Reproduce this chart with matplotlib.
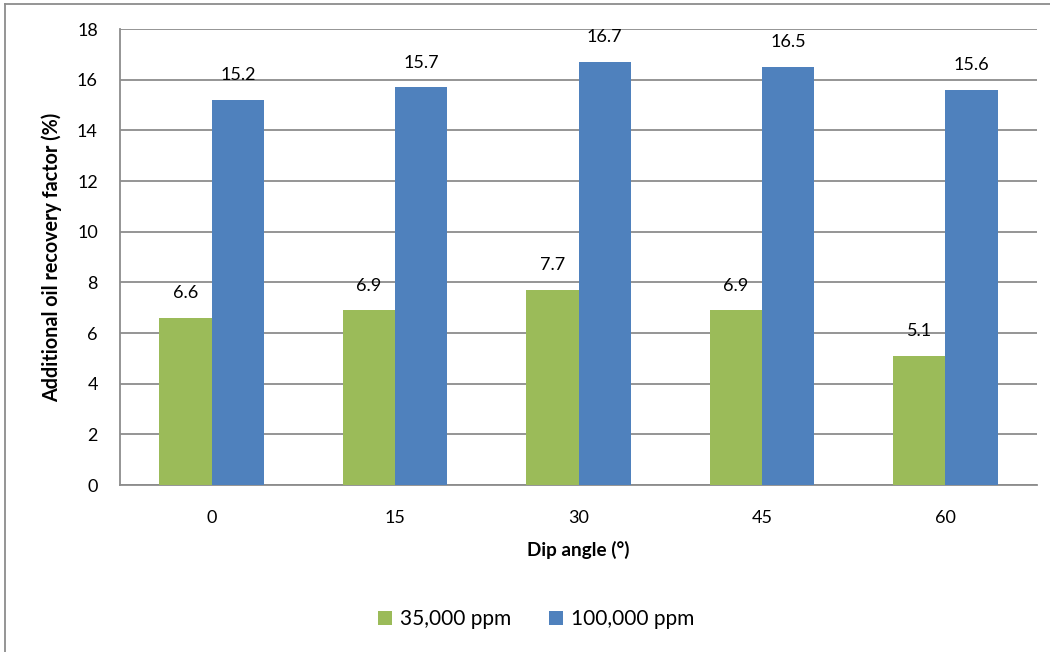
import matplotlib
matplotlib.use("Agg")
import matplotlib.pyplot as plt
import numpy as np
from matplotlib.lines import Line2D

categories = ["0", "15", "30", "45", "60"]
series_names = ["35,000 ppm", "100,000 ppm"]
values_35k = [6.6, 6.9, 7.7, 6.9, 5.1]
values_100k = [15.2, 15.7, 16.7, 16.5, 15.6]
yticks = [0, 2, 4, 6, 8, 10, 12, 14, 16, 18]

plt.rcParams['font.family'] = ['Lato', 'DejaVu Sans']

fig = plt.figure(figsize=(10.5, 6.52), dpi=100)
ax = fig.add_axes([120/1050, 1-485/652, (1037-120)/1050, (485-29)/652])

x = np.arange(len(categories))
w = 0.285
green = "#9BBB59"
blue = "#4F81BD"
b1 = ax.bar(x - w/2, values_35k, w, color=green, label=series_names[0], zorder=3)
b2 = ax.bar(x + w/2, values_100k, w, color=blue, label=series_names[1], zorder=3)

for bars, vals in ((b1, values_35k), (b2, values_100k)):
    for r, v in zip(bars, vals):
        ax.annotate(f"{v:.1f}", (r.get_x() + r.get_width()/2, v), xytext=(0, 12),
                    textcoords="offset points", ha="center", va="bottom",
                    fontsize=13, color="#000000")

ax.set_xlim(-0.5, len(categories) - 0.5)
ax.set_ylim(0, 18)
ax.set_yticks(yticks)
ax.set_xticks(x)
ax.set_xticklabels(categories)
ax.tick_params(axis='y', length=0, pad=16, labelsize=13)
ax.tick_params(axis='x', length=0, pad=18, labelsize=13)
ax.grid(axis='y', color="#8c8c8c", linewidth=1.3, zorder=0)
ax.set_axisbelow(True)
for s in ("top", "right"):
    ax.spines[s].set_visible(False)
for s in ("left", "bottom"):
    ax.spines[s].set_color("#8c8c8c")
    ax.spines[s].set_linewidth(1.3)

ax.set_ylabel("Additional oil recovery factor (%)", fontsize=14.2, fontweight="bold")
ax.yaxis.set_label_coords(-(120-62)/917, 0.5)
ax.set_xlabel("Dip angle (°)", fontsize=13.6, fontweight="bold", labelpad=11)

fig.legend(handles=[b1, b2], loc="center", bbox_to_anchor=(536/1050, 1-619/652),
           ncol=2, frameon=False, fontsize=15, handlelength=0.67, handleheight=0.67,
           handletextpad=0.4, columnspacing=1.8, borderpad=0)

# outer chart border (left and top visible)
fig.add_artist(Line2D([5/1050, 5/1050], [0, 1-4/652], color="#8c8c8c", linewidth=1.3, transform=fig.transFigure))
fig.add_artist(Line2D([5/1050, 1], [1-4/652, 1-4/652], color="#8c8c8c", linewidth=1.3, transform=fig.transFigure))

fig.savefig("out.png", dpi=100)
